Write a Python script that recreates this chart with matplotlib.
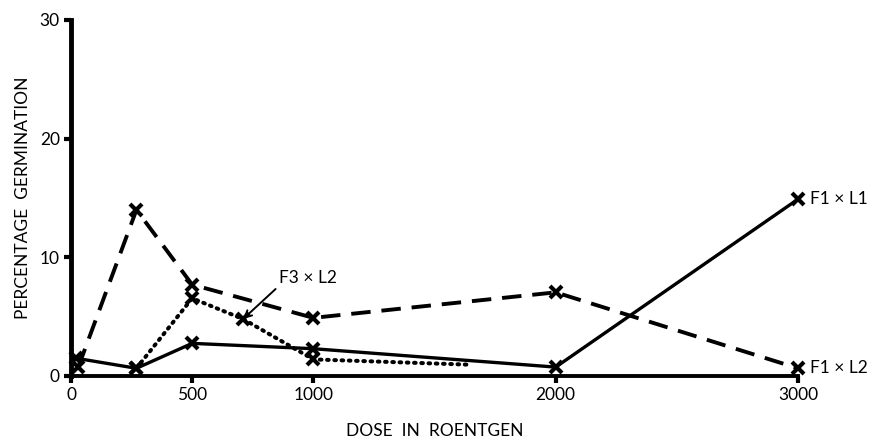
import matplotlib
matplotlib.use("Agg")
import matplotlib.pyplot as plt

plt.rcParams['font.family'] = ['Lato', 'DejaVu Sans']

# F1 x L1 (solid)
dose_l1 = [20, 270, 500, 1000, 2000, 3000]
germ_l1 = [1.5, 0.65, 2.75, 2.3, 0.75, 14.9]

# F1 x L2 (dashed)
dose_l2 = [30, 270, 500, 1000, 2000, 3000]
germ_l2 = [0.75, 14.0, 7.7, 4.9, 7.05, 0.65]

# F3 x L2 (dotted), last point has no marker
dose_f3 = [270, 500, 710, 1000, 1650]
germ_f3 = [0.65, 6.55, 4.8, 1.4, 0.95]

xticks = [0, 500, 1000, 2000, 3000]
yticks = [0, 10, 20, 30]


def main():
    fig = plt.figure(figsize=(8.71, 4.43), dpi=100)
    ax = fig.add_axes([71 / 871, 1 - 376 / 443, (798 - 71) / 871, (376 - 20) / 443])

    ax.plot(dose_l1, germ_l1, color='black', lw=2.4, ls='-',
            marker='x', ms=8.5, mew=3, solid_capstyle='butt', clip_on=False)
    ax.plot(dose_l2, germ_l2, color='black', lw=2.8, ls=(0, (5, 2.8)),
            marker='x', ms=8.5, mew=3, clip_on=False)
    ax.plot(dose_f3, germ_f3, color='black', lw=2.9, ls=(0, (0.4, 1.4)),
            dash_capstyle='round', marker='x', ms=8.5, mew=3,
            markevery=[0, 1, 2, 3], clip_on=False)

    ax.set_xlim(0, 3000)
    ax.set_ylim(0, 30)
    ax.set_xticks(xticks)
    ax.set_yticks(yticks)
    ax.tick_params(direction='out', length=5, width=3, labelsize=12.5, pad=3)

    for s in ['top', 'right']:
        ax.spines[s].set_visible(False)
    ax.spines['left'].set_linewidth(3.5)
    ax.spines['bottom'].set_linewidth(2.8)

    ax.set_xlabel('DOSE  IN  ROENTGEN', fontsize=12.5, labelpad=14)
    ax.set_ylabel('PERCENTAGE  GERMINATION', fontsize=12.5, labelpad=6)

    ax.text(3050, germ_l1[-1], 'F1 × L1', fontsize=12.5, ha='left', va='center')
    ax.text(3050, germ_l2[-1], 'F1 × L2', fontsize=12.5, ha='left', va='center')
    ax.annotate('F3 × L2', xy=(dose_f3[2], germ_f3[2]), xytext=(860, 8.3),
                fontsize=12.5, ha='left', va='center',
                arrowprops=dict(arrowstyle='->', color='black', lw=1.4,
                                relpos=(0, 0), shrinkA=1, shrinkB=0))

    fig.savefig('out.png', dpi=100)


if __name__ == '__main__':
    main()
